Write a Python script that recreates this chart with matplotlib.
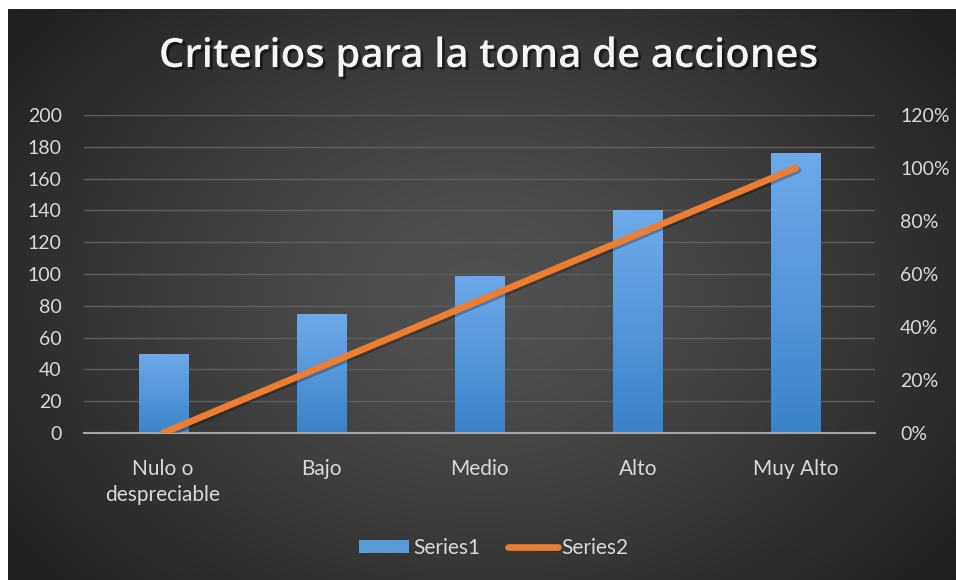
import numpy as np
import matplotlib
matplotlib.use("Agg")
import matplotlib.pyplot as plt
import matplotlib.patheffects as pe
from matplotlib.colors import LinearSegmentedColormap
from matplotlib.lines import Line2D
from matplotlib.patches import Patch

plt.rcParams['font.family'] = ['Lato', 'DejaVu Sans']

title = "Criterios para la toma de acciones"
categories = ["Nulo o\ndespreciable", "Bajo", "Medio", "Alto", "Muy Alto"]
series1 = [50, 75, 99, 140, 176]
series2 = [0.0, 0.25, 0.50, 0.75, 1.00]
left_ticks = [0, 20, 40, 60, 80, 100, 120, 140, 160, 180, 200]
right_ticks = [0.0, 0.2, 0.4, 0.6, 0.8, 1.0, 1.2]

W, H = 956, 580
fig = plt.figure(figsize=(W / 100, H / 100), dpi=100)
fig.patch.set_facecolor("white")

# background with radial gradient
bg = fig.add_axes([8 / W, 0, 1 - 8 / W, 1 - 9 / H])
bg.set_axis_off()
ny, nx = 300, 500
yy, xx = np.mgrid[0:ny, 0:nx]
cx, cy = nx * 0.50, ny * 0.50
d = np.sqrt(((xx - cx) / (nx * 0.62)) ** 2 + ((yy - cy) / (ny * 0.75)) ** 2)
d = np.clip(d, 0, 1)
c_in = np.array([0x52, 0x52, 0x52]) / 255
c_out = np.array([0x20, 0x20, 0x20]) / 255
img = c_in[None, None, :] * (1 - d[..., None] ** 1.3) + c_out[None, None, :] * (d[..., None] ** 1.3)
bg.imshow(img, aspect="auto", extent=[0, 1, 0, 1], interpolation="bilinear")
bg.set_xlim(0, 1)
bg.set_ylim(0, 1)

L, R = 84 / W, 875 / W
B, T = 1 - 433 / H, 1 - 115 / H
ax = fig.add_axes([L, B, R - L, T - B])
ax.patch.set_alpha(0)
x = np.arange(len(categories))
ax.set_xlim(-0.5, len(categories) - 0.5)
ax.set_ylim(0, 200)
ax.set_yticks(left_ticks)
ax.set_yticklabels([str(v) for v in left_ticks])
ax.grid(axis="y", color="#5e5e5e", linewidth=1.0)
ax.set_axisbelow(True)
for s in ["top", "right", "left"]:
    ax.spines[s].set_visible(False)
ax.spines["bottom"].set_color("#a6a6a6")
ax.spines["bottom"].set_linewidth(1.5)
ax.spines["bottom"].set_zorder(4)
ax.tick_params(axis="both", length=0, colors="#d9d9d9")
ax.tick_params(axis="y", pad=16, labelsize=14)
ax.tick_params(axis="x", pad=19, labelsize=15)
ax.set_xticks(x)
ax.set_xticklabels(categories, linespacing=1.35)

bar_cmap = LinearSegmentedColormap.from_list("bar", ["#3b83c9", "#6eaaea"])
bars = ax.bar(x, series1, width=0.31, color="#5b9bd5", zorder=2)
grad = np.linspace(0, 1, 256).reshape(-1, 1)
for b in bars:
    im = ax.imshow(grad, cmap=bar_cmap, aspect="auto", origin="lower",
                   extent=[b.get_x(), b.get_x() + b.get_width(), 0, b.get_height()], zorder=2.5)
    im.set_clip_path(b)
ax.set_xlim(-0.5, len(categories) - 0.5)
ax.set_ylim(0, 200)

ax2 = ax.twinx()
ax2.set_ylim(0, 1.2)
ax2.set_yticks(right_ticks)
ax2.set_yticklabels([f"{int(round(v * 100))}%" for v in right_ticks])
for s in ["top", "right", "left", "bottom"]:
    ax2.spines[s].set_visible(False)
ax2.tick_params(axis="y", length=0, colors="#d9d9d9", labelsize=14, pad=18)
ax2.plot(x, series2, color="#ed7d31", linewidth=4.8, solid_capstyle="round", zorder=5,
         path_effects=[pe.SimpleLineShadow(offset=(1.5, -1.5), shadow_color="black", alpha=0.25), pe.Normal()])

fig.text(488 / W, 1 - 57 / H, title, ha="center", va="center", color="#f5f5f5", fontsize=29,
         fontweight="semibold", family=["Open Sans", "DejaVu Sans"],
         path_effects=[pe.withSimplePatchShadow(offset=(2, -2), shadow_rgbFace="black", alpha=0.5)])

handles = [Patch(facecolor="#5b9bd5", edgecolor="none"),
           Line2D([0], [0], color="#ed7d31", linewidth=4.8, solid_capstyle="round")]
leg = fig.legend(handles, ["Series1", "Series2"], loc="center", bbox_to_anchor=(494 / W, 1 - 548 / H),
                 ncol=2, frameon=False, fontsize=15, labelcolor="#d9d9d9",
                 handlelength=2.4, handleheight=0.6, handletextpad=0.2, columnspacing=1.3)

fig.savefig("out.png", dpi=100, facecolor=fig.get_facecolor())
